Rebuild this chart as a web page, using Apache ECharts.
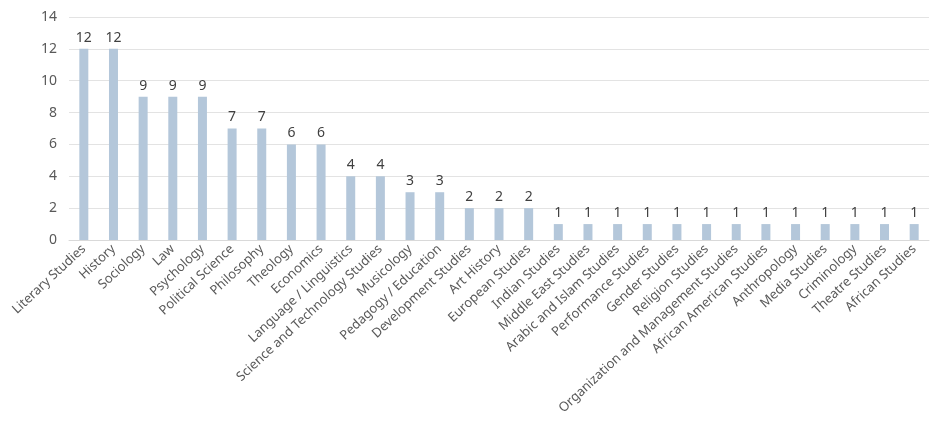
<!DOCTYPE html>
<html>
<head>
<meta charset="utf-8">
<script src="https://cdn.jsdelivr.net/npm/echarts@6/dist/echarts.min.js"></script>
<style>html,body{margin:0;padding:0;background:#fff}#chart{width:936px;height:430px}</style>
</head>
<body>
<div id="chart"></div>
<script>
const categories = ["Literary Studies","History","Sociology","Law","Psychology","Political Science","Philosophy","Theology","Economics","Language / Linguistics","Science and Technology Studies","Musicology","Pedagogy / Education","Development Studies","Art History","European Studies","Indian Studies","Middle East Studies","Arabic and Islam Studies","Performance Studies","Gender Studies","Religion Studies","Organization and Management Studies","African American Studies","Anthropology","Media Studies","Criminology","Theatre Studies","African Studies"]
const counts = [12,12,9,9,9,7,7,6,6,4,4,3,3,2,2,2,1,1,1,1,1,1,1,1,1,1,1,1,1]
const yTicks = { min: 0, max: 14, interval: 2 }

const font = "'Noto Sans', sans-serif"
echarts.init(document.getElementById("chart")).setOption({
  animation: false,
  grid: { left: 69, right: 7, top: 17, bottom: 190 },
  xAxis: {
    type: "category", data: categories,
    axisLine: { lineStyle: { color: "#d9d9d9" } },
    axisTick: { show: false },
    axisLabel: { rotate: 43, interval: 0, color: "#595959", fontSize: 13, fontFamily: font, margin: 7 }
  },
  yAxis: {
    type: "value", min: yTicks.min, max: yTicks.max, interval: yTicks.interval,
    axisLine: { show: false }, axisTick: { show: false },
    axisLabel: { color: "#595959", fontSize: 14, fontFamily: font, margin: 12 },
    splitLine: { lineStyle: { color: "#e3e3e3" } }
  },
  series: [{
    type: "bar", data: counts, barWidth: 9,
    itemStyle: { color: "#b4c7da" },
    label: { show: true, position: "top", color: "#404040", fontSize: 14, fontFamily: font, distance: 4 }
  }]
})
</script>
</body>
</html>
